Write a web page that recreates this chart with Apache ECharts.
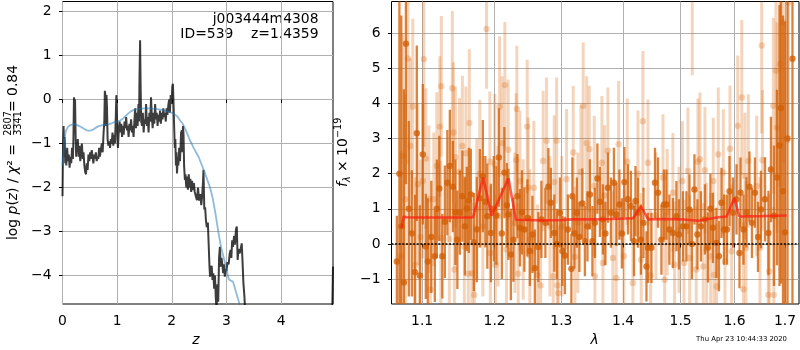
<!DOCTYPE html>
<html><head><meta charset="utf-8">
<script src="https://cdn.jsdelivr.net/npm/echarts@6/dist/echarts.min.js"></script>
<style>html,body{margin:0;padding:0;background:#fff}#c{width:800px;height:350px}</style>
</head><body><div id="c"></div>
<script>
// ---------- left panel: log p(z) ----------
const zTicks = [0, 1, 2, 3, 4];
const logTicks = [-4, -3, -2, -1, 0, 1, 2];
const pzZ = [0.000,0.010,0.020,0.030,0.040,0.050,0.060,0.070,0.085,0.100,0.115,0.130,0.145,0.160,0.175,0.190,0.200,0.210,0.220,0.230,0.240,0.250,0.260,0.270,0.280,0.295,0.310,0.325,0.340,0.355,0.370,0.385,0.400,0.415,0.430,0.445,0.460,0.475,0.490,0.505,0.520,0.535,0.550,0.565,0.580,0.595,0.610,0.625,0.640,0.655,0.670,0.685,0.700,0.720,0.735,0.750,0.765,0.775,0.785,0.795,0.805,0.815,0.825,0.840,0.855,0.870,0.885,0.900,0.915,0.930,0.945,0.960,0.975,0.985,0.995,1.005,1.015,1.030,1.045,1.060,1.075,1.090,1.105,1.120,1.135,1.150,1.165,1.180,1.195,1.210,1.225,1.240,1.255,1.270,1.285,1.300,1.315,1.330,1.345,1.360,1.375,1.390,1.400,1.410,1.420,1.430,1.440,1.455,1.470,1.485,1.500,1.515,1.530,1.545,1.560,1.575,1.590,1.605,1.620,1.635,1.650,1.665,1.680,1.695,1.710,1.725,1.740,1.755,1.770,1.785,1.800,1.815,1.830,1.845,1.860,1.875,1.890,1.905,1.920,1.935,1.950,1.965,1.980,1.995,2.010,2.020,2.030,2.045,2.055,2.065,2.075,2.085,2.095,2.110,2.120,2.135,2.150,2.170,2.185,2.195,2.205,2.215,2.225,2.240,2.250,2.265,2.280,2.295,2.310,2.325,2.340,2.355,2.370,2.390,2.405,2.420,2.440,2.460,2.480,2.500,2.520,2.540,2.555,2.570,2.580,2.595,2.610,2.625,2.640,2.660,2.675,2.690,2.700,2.715,2.730,2.745,2.760,2.775,2.790,2.805,2.820,2.835,2.850,2.865,2.880,2.895,2.910,2.925,2.940,2.955,2.970,2.985,3.000,3.020,3.040,3.060,3.075,3.090,3.105,3.120,3.140,3.155,3.175,3.190,3.205,3.220,3.240,3.260,3.280,3.295,3.310,3.330,3.345,3.360,3.500,4.000,4.500,4.920,4.950];
const pzLog = [-2.2,-1.0,-0.6,-1.3,-0.85,-1.45,-1.2,-1.5,-1.1,-1.4,-1.25,-1.55,-1.3,-1.45,-1.1,-1.35,-0.9,0.05,-0.1,0.0,-0.85,-1.3,-0.95,-1.2,-0.9,-1.3,-1.05,-1.4,-1.15,-1.0,-1.35,-1.2,-1.5,-1.65,-1.7,-1.45,-1.6,-1.25,-1.4,-1.2,-1.35,-1.15,-1.3,-1.45,-1.25,-1.35,-1.2,-1.4,-1.3,-1.35,-1.1,-1.3,-1.15,-1.0,-1.2,-0.8,-0.5,0.2,0.1,-0.6,0.1,-0.2,-0.9,-1.05,-0.95,-1.1,-0.9,-1.0,-0.75,-1.05,-0.8,-1.0,-0.4,0.1,-0.3,-0.9,-1.1,-0.7,-0.5,-0.75,-0.55,-0.85,-0.6,-0.8,-0.5,-0.65,-0.4,-0.7,-0.6,-0.85,-0.55,-0.7,-0.45,-0.75,-0.6,-0.85,-0.5,-0.2,-0.65,-0.3,-0.6,-0.1,-0.5,0.6,1.35,0.3,-0.5,-0.6,-0.3,-0.75,-0.45,-0.55,-0.1,-0.6,-0.4,-0.75,-0.3,-0.5,0.05,-0.4,-0.65,-0.3,-0.55,-0.1,-0.45,-0.3,-0.6,-0.35,-0.5,-0.25,-0.55,-0.3,-0.45,-0.2,-0.4,-0.3,-0.5,-0.2,-0.35,-0.15,0.0,-0.3,0.1,-0.1,0.3,0.36,0.0,-0.7,-1.1,-0.9,-1.5,-1.2,-1.68,-1.3,-1.5,-1.1,-1.4,-0.75,-0.7,-1.2,-0.6,-0.8,-1.5,-1.83,-1.7,-2.0,-1.75,-2.05,-1.7,-2.0,-1.8,-2.1,-1.85,-2.06,-1.9,-2.1,-2.2,-2.29,-2.0,-2.3,-2.15,-2.4,-2.2,-1.9,-1.6,-2.5,-2.45,-2.75,-2.9,-2.8,-3.3,-3.8,-4.03,-3.85,-3.78,-4.1,-3.95,-4.3,-4.0,-4.5,-4.8,-4.2,-4.6,-3.6,-3.35,-3.8,-3.6,-3.75,-3.95,-3.75,-4.03,-3.85,-3.9,-3.7,-3.75,-3.5,-3.42,-3.6,-3.2,-3.35,-3.1,-3.3,-2.95,-2.89,-3.65,-3.4,-3.5,-3.4,-3.27,-3.7,-4.16,-4.5,-4.9,-5.5,-6.5,-7.0,-7.0,-6.0,-3.8];
const smoothZ = [0.00,0.03,0.06,0.10,0.15,0.20,0.25,0.30,0.35,0.40,0.45,0.50,0.55,0.60,0.65,0.70,0.75,0.80,0.85,0.90,0.95,1.00,1.05,1.10,1.15,1.20,1.25,1.30,1.35,1.40,1.50,1.60,1.70,1.80,1.90,2.00,2.10,2.15,2.20,2.25,2.33,2.40,2.49,2.60,2.70,2.75,2.80,2.85,2.90,2.95,3.00,3.04,3.08,3.12,3.18,3.24,3.35];
const smoothLog = [-1.5,-0.95,-0.72,-0.62,-0.58,-0.56,-0.57,-0.6,-0.63,-0.67,-0.7,-0.71,-0.69,-0.65,-0.61,-0.59,-0.58,-0.57,-0.56,-0.54,-0.51,-0.5,-0.48,-0.44,-0.38,-0.32,-0.27,-0.24,-0.22,-0.21,-0.2,-0.2,-0.21,-0.23,-0.26,-0.3,-0.38,-0.47,-0.55,-0.68,-0.92,-1.1,-1.3,-1.65,-2.0,-2.25,-2.6,-3.0,-3.35,-3.6,-3.85,-4.08,-4.12,-4.14,-4.4,-4.65,-5.2];

// ---------- right panel: spectrum ----------
const lamTicks = [1.1, 1.2, 1.3, 1.4, 1.5, 1.6, 1.7];
const fluxTicks = [-1, 0, 1, 2, 3, 4, 5, 6];
const darkLam = [1.0672,1.0704,1.0729,1.0762,1.0788,1.0826,1.0865,1.0904,1.0930,1.0970,1.1009,1.1049,1.1075,1.1122,1.1169,1.1196,1.1229,1.1270,1.1304,1.1338,1.1372,1.1413,1.1448,1.1475,1.1509,1.1544,1.1579,1.1606,1.1634,1.1662,1.1704,1.1746,1.1789,1.1831,1.1867,1.1895,1.1946,1.1988,1.2025,1.2060,1.2104,1.2141,1.2177,1.2199,1.2236,1.2273,1.2332,1.2369,1.2399,1.2436,1.2481,1.2518,1.2556,1.2593,1.2646,1.2692,1.2753,1.2799,1.2837,1.2891,1.2930,1.2977,1.3016,1.3055,1.3102,1.3157,1.3173,1.3205,1.3244,1.3284,1.3332,1.3372,1.3413,1.3453,1.3493,1.3534,1.3574,1.3615,1.3664,1.3705,1.3746,1.3796,1.3846,1.3888,1.3937,1.3979,1.4021,1.4080,1.4131,1.4183,1.4208,1.4251,1.4302,1.4345,1.4397,1.4423,1.4483,1.4545,1.4597,1.4658,1.4702,1.4746,1.4799,1.4861,1.4924,1.4969,1.5041,1.5104,1.5159,1.5204,1.5250,1.5305,1.5369,1.5443,1.5499,1.5545,1.5592,1.5658,1.5705,1.5753,1.5800,1.5857,1.5905,1.5972,1.6040,1.6097,1.6116,1.6174,1.6232,1.6290,1.6339,1.6398,1.6458,1.6517,1.6597,1.6666,1.6716,1.6777,1.6837,1.6888,1.6918,1.6959,1.7000,1.7051,1.7153];
const darkFlux = [-0.5,2.0,0.5,-1.1,5.7,1.0,0.3,-0.8,3.15,-0.9,2.55,-0.07,-0.5,0.2,-0.35,1.0,1.58,-0.35,0.63,1.74,2.22,1.63,0.9,0.12,0.89,1.36,0.5,1.0,1.24,1.41,0.05,0.41,1.3,1.93,1.2,0.79,0.31,1.0,0.81,2.46,0.3,2.03,1.1,0.84,-0.3,0.12,1.36,0.46,0.9,0.41,0.74,-0.2,0.27,-0.69,-0.09,0.7,0.6,1.63,1.17,0.31,0.0,0.89,-0.2,-0.33,0.41,-0.71,1.36,0.3,0.89,0.2,1.15,0.08,0.5,1.41,0.08,0.6,1.86,1.2,0.7,0.3,1.6,0.89,1.74,0.84,1.12,0.3,1.76,1.27,1.08,0.08,1.22,0.89,0.12,0.6,-0.64,-0.11,-0.11,1.74,1.46,0.12,1.12,1.12,0.41,0.31,0.79,0.27,0.5,0.5,0.98,0.0,1.55,0.27,0.5,0.7,-0.1,1.0,0.46,0.03,-0.35,1.17,0.41,0.41,1.5,0.89,1.27,-0.26,1.46,0.41,0.9,1.63,0.6,1.46,0.2,0.98,1.27,0.31,2.12,0.8,1.89,2.8,3.87,1.5,0.33,3.0,5.27];
const darkErr = [1.3,6.0,6.0,5.5,4.0,2.5,1.8,2.2,2.5,2.0,2.0,1.5,1.8,1.6,1.3,1.4,1.5,1.2,1.6,1.5,1.6,1.3,1.5,1.4,1.2,1.3,1.4,1.2,1.5,1.3,1.4,1.5,1.4,1.6,1.3,1.5,1.4,1.5,1.4,1.4,1.3,1.3,1.2,1.3,1.3,1.2,1.2,1.1,1.2,1.2,1.1,1.0,1.1,1.1,1.0,1.1,1.0,1.1,1.0,1.1,1.0,1.0,1.0,1.1,1.0,1.0,1.1,1.0,1.0,1.0,1.0,1.0,1.0,1.0,1.0,1.0,1.0,1.0,1.0,0.9,1.0,1.0,1.0,0.9,1.0,1.0,1.0,1.0,1.0,1.0,1.0,1.0,1.0,1.0,1.0,1.0,1.0,1.0,1.0,1.0,1.0,1.0,1.0,1.0,1.0,1.0,1.0,1.0,1.0,1.0,1.0,1.0,1.0,1.0,1.0,1.0,1.0,1.0,1.0,1.0,1.0,1.0,1.0,1.0,1.0,1.0,1.0,1.0,1.0,1.0,1.0,1.0,1.0,1.1,1.2,1.2,1.5,2.0,2.5,4.0,5.0,5.0,6.0,5.0,7.0];
const lightLam = [1.0723,1.0749,1.0781,1.0813,1.0846,1.0878,1.0911,1.0944,1.0977,1.1010,1.1023,1.1049,1.1089,1.1109,1.1155,1.1196,1.1236,1.1250,1.1256,1.1365,1.1406,1.1420,1.1434,1.1448,1.1503,1.1544,1.1572,1.1593,1.1627,1.1641,1.1676,1.1711,1.1746,1.1789,1.1831,1.1884,1.1931,1.1938,1.2003,1.2010,1.2050,1.2071,1.2108,1.2148,1.2172,1.2196,1.2295,1.2313,1.2324,1.2344,1.2369,1.2418,1.2478,1.2493,1.2518,1.2578,1.2634,1.2680,1.2719,1.2771,1.2822,1.2873,1.2889,1.2926,1.2938,1.2951,1.3008,1.3081,1.3186,1.3213,1.3260,1.3308,1.3345,1.3400,1.3442,1.3523,1.3534,1.3648,1.3664,1.3692,1.3746,1.3829,1.3884,1.3924,1.4013,1.4069,1.4165,1.4251,1.4307,1.4336,1.4423,1.4469,1.4562,1.4685,1.4715,1.4760,1.4861,1.4891,1.4969,1.5030,1.5060,1.5132,1.5163,1.5210,1.5283,1.5314,1.5351,1.5412,1.5443,1.5474,1.5549,1.5598,1.5611,1.5661,1.5692,1.5787,1.5819,1.5914,1.5946,1.6063,1.6141,1.6173,1.6203,1.6223,1.6268,1.6432,1.6497,1.6531,1.6547,1.6662,1.6682,1.6763,1.6773,1.6817,1.6837,1.6898,1.6966,1.7068];
const lightFlux = [-0.35,2.5,1.27,5.28,2.79,3.91,-0.6,1.7,0.2,1.79,5.26,2.43,1.27,-1.3,1.27,2.22,3.34,0.17,4.49,0.14,4.43,3.17,-0.73,2.47,2.05,2.79,-0.07,2.58,-0.85,3.44,-0.83,-1.45,1.0,2.0,0.5,6.12,2.34,-0.26,2.27,-0.59,0.79,3.91,2.87,4.52,-0.16,2.68,0.6,2.39,3.84,-0.85,1.79,0.41,3.34,1.6,0.12,1.6,-0.88,-1.18,2.36,2.94,0.5,-0.92,1.76,2.94,-1.18,-1.4,0.5,1.84,2.6,-0.37,0.6,2.05,3.93,2.87,2.7,1.65,-0.92,2.31,-0.54,1.38,2.65,-0.4,-0.97,2.84,-0.35,2.34,-1.11,2.0,-0.45,3.49,2.31,-0.9,0.8,1.89,-1.02,0.9,1.46,-0.59,0.4,1.79,-0.54,2.08,-0.4,7.8,-0.73,2.34,2.41,-0.64,2.1,-0.16,-0.35,1.79,-0.88,-1.21,2.55,2.03,-0.5,2.71,-0.21,3.36,4.17,-1.29,1.93,-0.11,2.36,1.65,-0.11,5.65,2.38,-1.45,-0.78,3.93,-1.45,4.93,3.31,5.12,6.31,6.87];
const lightErr = [3.0,3.5,3.0,3.0,2.5,2.5,2.5,2.3,2.2,2.2,2.5,2.0,2.1,2.0,1.9,2.1,2.0,2.2,2.0,2.0,2.2,2.0,1.9,2.0,2.1,2.0,2.0,1.9,2.0,2.1,2.0,2.0,2.0,2.1,2.0,1.7,2.0,1.9,2.0,2.0,2.0,2.0,1.9,1.8,2.0,2.0,2.0,1.9,1.8,2.0,2.0,2.0,1.9,2.0,2.0,1.9,2.0,1.9,2.0,1.8,2.0,2.0,1.9,1.8,2.0,1.9,2.0,2.0,1.9,2.0,2.0,1.9,1.8,1.9,1.8,2.0,1.9,1.9,2.0,2.0,1.8,1.9,2.0,1.8,1.9,1.8,1.9,1.8,1.9,2.0,1.8,1.9,1.8,1.8,1.9,1.8,1.7,1.8,1.8,1.7,1.8,1.8,1.8,3.0,1.8,1.8,1.9,1.8,1.8,1.9,1.8,1.8,1.9,1.8,1.9,1.8,1.9,1.8,1.9,2.0,2.2,1.9,1.8,1.9,1.9,2.0,2.0,2.5,2.0,2.1,2.2,2.5,2.5,3.0,3.0,3.5,4.0,4.0];
const modelLam = [1.0732,1.0760,1.0800,1.1000,1.1300,1.1500,1.1694,1.1835,1.1956,1.2200,1.2310,1.2500,1.2670,1.3000,1.3186,1.3500,1.3800,1.4170,1.4302,1.4428,1.4700,1.5000,1.5320,1.5474,1.5700,1.5851,1.5997,1.6093,1.6500,1.7035];
const modelFlux = [0.45,0.78,0.76,0.75,0.75,0.75,0.76,1.89,0.8,1.87,0.69,0.68,0.67,0.68,0.70,0.70,0.71,0.73,1.07,0.70,0.71,0.70,0.66,0.70,0.76,0.78,1.31,0.78,0.79,0.81];

// ---------- build ----------
const FONT = 'DejaVu Sans';
const TICKFS = 13.9;
const minusFmt = v => (v < 0 ? '\u2212' + Math.abs(v) : String(v));
const lnTicks = lamTicks.map(Math.log);
const lnMin = 0.05858, lnMax = 0.54742;
const gridLine = {show: true, lineStyle: {color: '#b0b0b0', width: 1}};
const tick = vals => ({show: true, customValues: vals, length: 3.5, lineStyle: {color: '#000', width: 1}});
const lab = (vals, fmt, margin) => ({customValues: vals, formatter: fmt, margin: margin, color: '#000', fontFamily: FONT, fontSize: TICKFS});

function errItem(color, barW, r) {
  return function (params, api) {
    const x = api.value(0), y = api.value(1), e = api.value(2);
    const p0 = api.coord([x, y - e]), p1 = api.coord([x, y + e]), pc = api.coord([x, y]);
    return {type: 'group', children: [
      {type: 'line', shape: {x1: p0[0], y1: p0[1], x2: p1[0], y2: p1[1]}, style: {stroke: color, lineWidth: barW}},
      {type: 'circle', shape: {cx: pc[0], cy: pc[1], r: r}, style: {fill: color}}
    ]};
  };
}

const chart = echarts.init(document.getElementById('c'), null, {renderer: 'canvas'});
const option = {
  animation: false,
  grid: [
    {left: 62.5, top: 1.5, width: 270.5, height: 302.5, show: true, borderColor: '#000', borderWidth: 1, backgroundColor: 'transparent'},
    {left: 391.5, top: 1.5, width: 407.5, height: 302.5, show: true, borderColor: '#000', borderWidth: 1, backgroundColor: 'transparent'}
  ],
  xAxis: [
    {gridIndex: 0, type: 'value', min: 0, max: 4.95, axisLine: {show: false},
     axisTick: tick(zTicks), axisLabel: lab(zTicks, v => String(v), 10), splitLine: gridLine},
    {gridIndex: 1, type: 'value', min: lnMin, max: lnMax, axisLine: {show: false},
     axisTick: tick(lnTicks), axisLabel: lab(lnTicks, v => Math.exp(v).toFixed(1), 10), splitLine: gridLine}
  ],
  yAxis: [
    {gridIndex: 0, type: 'value', min: -4.65, max: 2.23, axisLine: {show: false},
     axisTick: tick(logTicks), axisLabel: lab(logTicks, minusFmt, 11), splitLine: gridLine},
    {gridIndex: 1, type: 'value', min: -1.71, max: 6.9, axisLine: {show: false},
     axisTick: tick(fluxTicks), axisLabel: lab(fluxTicks, minusFmt, 11), splitLine: gridLine}
  ],
  series: [
    {type: 'line', xAxisIndex: 0, yAxisIndex: 0, showSymbol: false, symbol: 'none', z: 3,
     data: pzZ.map((z, i) => [z, pzLog[i]]), lineStyle: {color: 'rgba(0,0,0,0.76)', width: 2}},
    {type: 'line', xAxisIndex: 0, yAxisIndex: 0, showSymbol: false, symbol: 'none', z: 4,
     data: smoothZ.map((z, i) => [z, smoothLog[i]]), lineStyle: {color: 'rgba(31,119,180,0.5)', width: 1.8}},
    {type: 'custom', xAxisIndex: 1, yAxisIndex: 1, clip: true, z: 2,
     data: lightLam.map((l, i) => [Math.log(l), lightFlux[i], lightErr[i]]),
     renderItem: errItem('rgba(215,100,10,0.28)', 3, 3.2)},
    {type: 'custom', xAxisIndex: 1, yAxisIndex: 1, clip: true, z: 3,
     data: darkLam.map((l, i) => [Math.log(l), darkFlux[i], darkErr[i]]),
     renderItem: errItem('rgba(210,95,5,0.78)', 2.3, 3.2)},
    {type: 'line', xAxisIndex: 1, yAxisIndex: 1, showSymbol: false, symbol: 'none', z: 5,
     data: modelLam.map((l, i) => [Math.log(l), modelFlux[i]]), lineStyle: {color: 'rgba(255,25,15,0.7)', width: 2.6},
     markLine: {silent: true, symbol: 'none', label: {show: false}, animation: false,
       lineStyle: {color: '#000', type: [2, 1.6], width: 1.6}, data: [{yAxis: 0}]}}
  ],
  graphic: [
    {type: 'text', x: 318.5, y: 19, style: {text: 'j003444m4308', font: TICKFS + 'px "DejaVu Sans"', fill: '#000', align: 'right', verticalAlign: 'middle'}},
    {type: 'text', x: 318.5, y: 34.5, style: {text: 'ID=539    z=1.4359', font: TICKFS + 'px "DejaVu Sans"', fill: '#000', align: 'right', verticalAlign: 'middle'}},
    {type: 'text', x: 196, y: 340, style: {text: 'z', font: 'italic ' + TICKFS + 'px "DejaVu Sans"', fill: '#000', align: 'center', verticalAlign: 'middle'}},
    {type: 'text', x: 594.5, y: 340, style: {text: 'λ', font: 'italic ' + TICKFS + 'px "DejaVu Sans"', fill: '#000', align: 'center', verticalAlign: 'middle'}},
    {type: 'text', x: 787, y: 339.5, style: {text: 'Thu Apr 23 10:44:33 2020', font: '6.9px "DejaVu Sans"', fill: '#000', align: 'right', verticalAlign: 'middle'}},
    {type: 'group', x: 13.3, y: 240, rotation: Math.PI / 2, children: [
      {type: 'text', x: 0, y: 0, style: {
        text: '{r|log }{i|p}{r|(}{i|z}{r|) / }{i|χ}{r|² =}',
        align: 'left', verticalAlign: 'middle', fill: '#000',
        rich: {r: {fontFamily: FONT, fontSize: TICKFS, fill: '#000'}, i: {fontFamily: FONT, fontStyle: 'italic', fontSize: TICKFS, fill: '#000'}}}},
      {type: 'text', x: 116.5, y: -4.5, style: {text: '2807', font: '9.7px "DejaVu Sans"', fill: '#000', align: 'center', verticalAlign: 'middle'}},
      {type: 'text', x: 116.5, y: 5, style: {text: '3341', font: '9.7px "DejaVu Sans"', fill: '#000', align: 'center', verticalAlign: 'middle'}},
      {type: 'line', shape: {x1: 107.5, y1: 0.5, x2: 125.5, y2: 0.5}, style: {stroke: '#000', lineWidth: 0.8}},
      {type: 'text', x: 128, y: 0, style: {text: '= 0.84', font: TICKFS + 'px "DejaVu Sans"', fill: '#000', align: 'left', verticalAlign: 'middle'}}
    ]},
    {type: 'group', x: 343.5, y: 187, rotation: Math.PI / 2, children: [
      {type: 'text', x: 0, y: 0, style: {text: 'f', font: 'italic ' + TICKFS + 'px "DejaVu Sans"', fill: '#000', align: 'left', verticalAlign: 'middle'}},
      {type: 'text', x: 5, y: 3.5, style: {text: 'λ', font: 'italic 9.7px "DejaVu Sans"', fill: '#000', align: 'left', verticalAlign: 'middle'}},
      {type: 'text', x: 10.6, y: 0, style: {text: ' × 10', font: TICKFS + 'px "DejaVu Sans"', fill: '#000', align: 'left', verticalAlign: 'middle'}},
      {type: 'text', x: 49, y: -5.5, style: {text: '\u221219', font: '9.7px "DejaVu Sans"', fill: '#000', align: 'left', verticalAlign: 'middle'}}
    ]}
  ]
};
chart.setOption(option);
</script></body></html>
